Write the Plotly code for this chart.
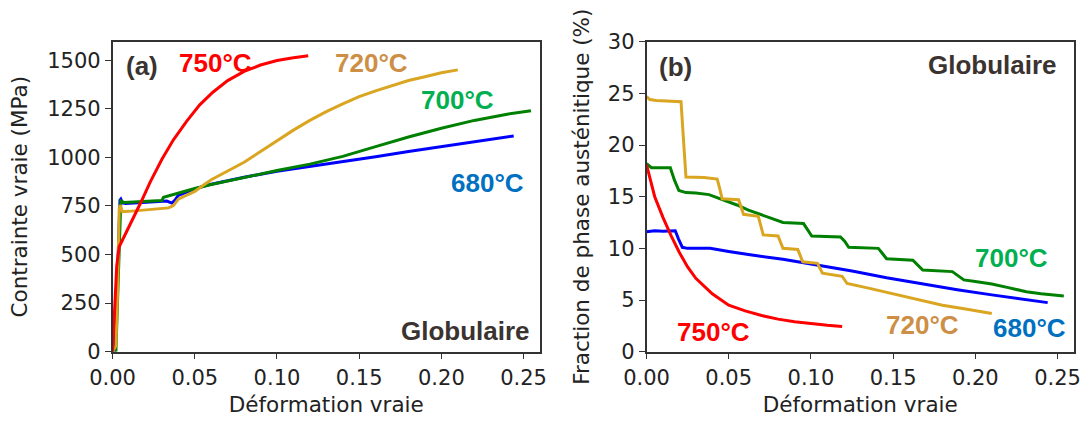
import plotly.graph_objects as go

W, H = 1085, 422

# ---------------- Panel (a): true stress vs true strain ----------------
a680_x = [0.001, 0.002, 0.003, 0.004, 0.0045, 0.005, 0.006, 0.008, 0.015, 0.025, 0.033, 0.036, 0.038, 0.04,
          0.05, 0.06, 0.08, 0.1, 0.12, 0.14, 0.16, 0.18, 0.2, 0.22, 0.244]
a680_y = [0, 150, 400, 650, 780, 785, 765, 762, 766, 770, 775, 765, 780, 805,
          838, 862, 898, 928, 952, 978, 1003, 1030, 1055, 1082, 1110]

a700_x = [0.002, 0.003, 0.004, 0.0045, 0.005, 0.007, 0.015, 0.025, 0.030, 0.031, 0.035, 0.04, 0.05, 0.06,
          0.08, 0.1, 0.12, 0.14, 0.16, 0.18, 0.2, 0.22, 0.24, 0.2545]
a700_y = [0, 300, 600, 760, 775, 768, 772, 776, 778, 795, 805, 815, 840, 860,
          898, 932, 965, 1005, 1055, 1105, 1150, 1190, 1222, 1240]

a720_x = [0, 0.002, 0.003, 0.0035, 0.004, 0.0045, 0.006, 0.01, 0.015, 0.02, 0.025, 0.03, 0.034, 0.037, 0.04,
          0.045, 0.05, 0.055, 0.06, 0.07, 0.08, 0.09, 0.1, 0.11, 0.12, 0.13, 0.14, 0.15, 0.16, 0.17,
          0.18, 0.19, 0.2, 0.21]
a720_y = [0, 30, 300, 600, 730, 755, 720, 722, 726, 728, 732, 736, 740, 752, 785,
          805, 825, 855, 885, 930, 975, 1030, 1085, 1140, 1190, 1235, 1275, 1312, 1342, 1370,
          1395, 1415, 1435, 1450]

a750_x = [0, 0.001, 0.0025, 0.004, 0.007, 0.011, 0.017, 0.023, 0.03, 0.037, 0.045, 0.053, 0.061, 0.07,
          0.08, 0.09, 0.1, 0.11, 0.119]
a750_y = [0, 200, 440, 540, 590, 660, 765, 875, 990, 1090, 1185, 1270, 1335, 1395,
          1442, 1475, 1498, 1512, 1523]

# ---------------- Panel (b): austenite fraction vs true strain ----------------
b680_x = [0, 0.005, 0.01, 0.0175, 0.0195, 0.0218, 0.025, 0.0387, 0.05, 0.062, 0.083, 0.104, 0.125, 0.146,
          0.168, 0.189, 0.21, 0.23, 0.244]
b680_y = [11.6, 11.7, 11.65, 11.7, 10.9, 10.1, 10.0, 10.0, 9.7, 9.4, 8.95, 8.4, 7.8, 7.15,
          6.55, 6.0, 5.5, 5.05, 4.75]

b700_x = [0, 0.003, 0.008, 0.0145, 0.017, 0.0197, 0.024, 0.03, 0.038, 0.045, 0.05, 0.055, 0.062, 0.0725,
          0.08, 0.083, 0.0955, 0.098, 0.1005, 0.118, 0.1205, 0.123, 0.141, 0.1435, 0.146, 0.162, 0.165,
          0.168, 0.186, 0.189, 0.193, 0.2, 0.21, 0.22, 0.231, 0.24, 0.2538]
b700_y = [18.2, 17.8, 17.8, 17.8, 16.6, 15.6, 15.4, 15.35, 15.2, 14.8, 14.5, 14.2, 13.7, 13.1,
          12.7, 12.5, 12.4, 11.8, 11.2, 11.1, 10.7, 10.1, 10.0, 9.5, 9.0, 8.85, 8.4,
          7.9, 7.75, 7.4, 6.95, 6.8, 6.55, 6.2, 5.8, 5.6, 5.4]

b720_x = [0, 0.002, 0.006, 0.015, 0.021, 0.0225, 0.024, 0.035, 0.043, 0.0445, 0.046, 0.056, 0.0575, 0.059,
          0.068, 0.0695, 0.071, 0.080, 0.0815, 0.083, 0.092, 0.0935, 0.095, 0.104, 0.1055, 0.107, 0.119,
          0.1205, 0.122, 0.135, 0.15, 0.165, 0.18, 0.195, 0.21]
b720_y = [24.7, 24.4, 24.3, 24.25, 24.2, 20.5, 16.9, 16.85, 16.7, 15.8, 14.8, 14.7, 14.0, 13.3,
          13.1, 12.2, 11.3, 11.2, 10.6, 10.0, 9.9, 9.3, 8.7, 8.55, 8.1, 7.6, 7.3,
          6.9, 6.6, 6.15, 5.6, 5.0, 4.5, 4.1, 3.7]

b750_x = [0, 0.005, 0.010, 0.015, 0.020, 0.025, 0.030, 0.040, 0.050, 0.060, 0.070, 0.080, 0.090, 0.100,
          0.110, 0.119]
b750_y = [18.1, 15.0, 13.0, 11.2, 9.6, 8.2, 7.1, 5.6, 4.5, 3.95, 3.5, 3.15, 2.9, 2.7, 2.55, 2.45]

x_ticks = [0, 0.05, 0.10, 0.15, 0.20, 0.25]
ya_ticks = [0, 250, 500, 750, 1000, 1250, 1500]
yb_ticks = [0, 5, 10, 15, 20, 25, 30]

C_RED, C_GOLD, C_GREEN, C_BLUE = "#ff0000", "#daa520", "#008000", "#0000ff"
L_RED, L_TAN, L_GREEN, L_BLUE, L_DARK = "#ff0000", "#cc8f45", "#00b050", "#0070c0", "#3b3330"

fig = go.Figure()


def add(x, y, color, xa, ya):
    fig.add_trace(go.Scatter(x=x, y=y, mode="lines", line=dict(color=color, width=3),
                             xaxis=xa, yaxis=ya, showlegend=False, hoverinfo="skip"))


for xs, ys, c in [(a680_x, a680_y, C_BLUE), (a700_x, a700_y, C_GREEN),
                  (a720_x, a720_y, C_GOLD), (a750_x, a750_y, C_RED)]:
    add(xs, ys, c, "x", "y")
for xs, ys, c in [(b680_x, b680_y, C_BLUE), (b700_x, b700_y, C_GREEN),
                  (b720_x, b720_y, C_GOLD), (b750_x, b750_y, C_RED)]:
    add(xs, ys, c, "x2", "y2")

tickfont = dict(family="DejaVu Sans", size=21, color="#222")
titlefont = dict(family="DejaVu Sans", size=21.5, color="#222")
axis_common = dict(showline=True, mirror=True, linecolor="#333", linewidth=1.5,
                   ticks="outside", ticklen=6, tickwidth=1.3, tickcolor="#333",
                   showgrid=False, zeroline=False, tickfont=tickfont, automargin=False)

y0 = (H - 351.7) / H
y1 = (H - 41.7) / H

fig.update_layout(
    width=W, height=H,
    margin=dict(l=0, r=0, t=0, b=0),
    paper_bgcolor="white", plot_bgcolor="white",
    xaxis=dict(domain=[112.6 / W, 540 / W], anchor="y", range=[0, 0.26], tickvals=x_ticks,
               tickformat=".2f",
               title=dict(text="Déformation vraie", font=titlefont, standoff=8), **axis_common),
    yaxis=dict(domain=[y0, y1], anchor="x", range=[0, 1595], tickvals=ya_ticks,
               title=dict(text="Contrainte vraie (MPa)", font=titlefont, standoff=14), **axis_common),
    xaxis2=dict(domain=[646.5 / W, 1074 / W], anchor="y2", range=[0, 0.26], tickvals=x_ticks,
                tickformat=".2f",
                title=dict(text="Déformation vraie", font=titlefont, standoff=8), **axis_common),
    yaxis2=dict(domain=[y0, y1], anchor="x2", range=[0, 30], tickvals=yb_ticks,
                title=dict(text="Fraction de phase austénitique (%)", font=titlefont, standoff=12),
                **axis_common),
)


def note(text, px, py, color, size=26):
    fig.add_annotation(text="<b>" + text + "</b>", x=px / W, y=1 - py / H, xref="paper", yref="paper",
                       xanchor="center", yanchor="middle", showarrow=False,
                       font=dict(family="Liberation Sans", size=size, color=color))


note("(a)", 141.7, 66, L_DARK)
note("750°C", 215, 63, L_RED)
note("720°C", 371, 63, L_TAN)
note("700°C", 457, 100, L_GREEN)
note("680°C", 487, 183, L_BLUE)
note("Globulaire", 465, 331, L_DARK)

note("(b)", 675, 67, L_DARK)
note("Globulaire", 992, 65, L_DARK)
note("700°C", 1011, 258, L_GREEN)
note("680°C", 1029, 328, L_BLUE)
note("720°C", 922, 325, L_TAN)
note("750°C", 713.6, 332, L_RED)

fig.write_html("out.html")
